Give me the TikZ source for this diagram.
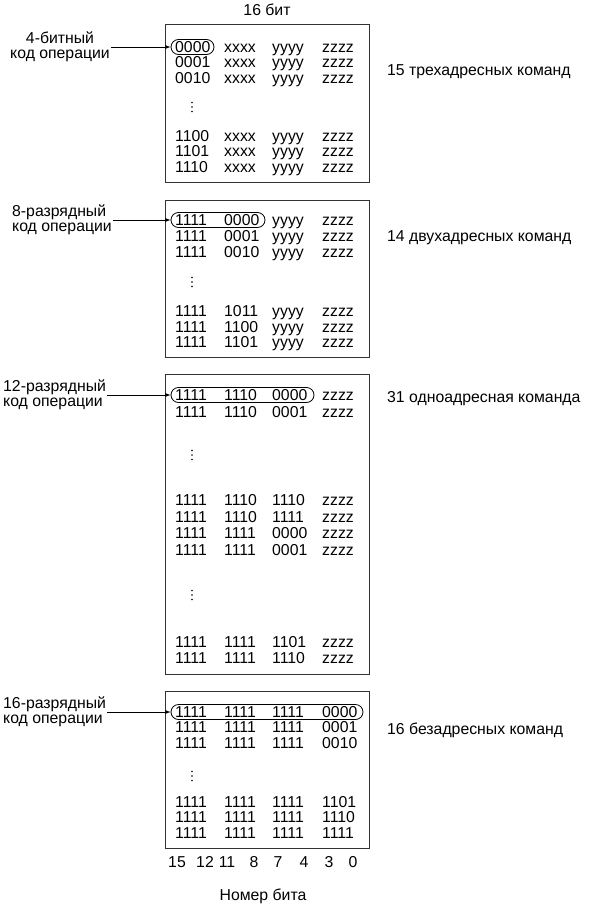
\documentclass[tikz,border=0pt]{standalone}
\usepackage{fontspec}
\setmainfont{Liberation Sans}
\usetikzlibrary{shapes.misc}

\begin{document}
\begin{tikzpicture}[x=1pt, y=-1pt, font=\fontsize{15.8}{15.5}\selectfont,
  box/.style={draw=black!80, line width=0.9pt},
  cell/.style={anchor=west, inner sep=0pt, text height=11.3pt, text depth=0pt},
  num/.style={inner sep=0pt, text height=11.3pt, text depth=0pt},
  oval/.style={draw, rounded rectangle, line width=0.8pt, minimum height=15pt, inner sep=0pt},
  lbl/.style={inner sep=1pt},
  arr/.style={-latex, line width=0.8pt}]
\useasboundingbox (0,0) rectangle (592,907);

% frames
\draw[box] (165,24) rectangle (369,182);
\draw[box] (165,200) rectangle (369,357);
\draw[box] (165,374) rectangle (369,674);
\draw[box] (165,691) rectangle (369,848);

\node[num] (width) at (267,10) {16 бит};

% code table
\foreach \y/\a/\b/\c/\d [count=\i] in {
  47/0000/xxxx/yyyy/zzzz, 62/0001/xxxx/yyyy/zzzz, 78/0010/xxxx/yyyy/zzzz,
  136/1100/xxxx/yyyy/zzzz, 151/1101/xxxx/yyyy/zzzz, 167/1110/xxxx/yyyy/zzzz,
  220/1111/0000/yyyy/zzzz, 236/1111/0001/yyyy/zzzz, 252/1111/0010/yyyy/zzzz,
  311/1111/1011/yyyy/zzzz, 327/1111/1100/yyyy/zzzz, 342/1111/1101/yyyy/zzzz,
  395/1111/1110/0000/zzzz, 412/1111/1110/0001/zzzz,
  500/1111/1110/1110/zzzz, 517/1111/1110/1111/zzzz,
  533/1111/1111/0000/zzzz, 550/1111/1111/0001/zzzz,
  642/1111/1111/1101/zzzz, 658/1111/1111/1110/zzzz,
  712/1111/1111/1111/0000, 727/1111/1111/1111/0001, 743/1111/1111/1111/0010,
  802/1111/1111/1111/1101, 817/1111/1111/1111/1110, 833/1111/1111/1111/1111} {
  \node[cell] (r\i-a) at (175,\y) {\a};
  \node[cell] (r\i-b) at (224,\y) {\b};
  \node[cell] (r\i-c) at (272,\y) {\c};
  \node[cell] (r\i-d) at (322,\y) {\d};
}

% vertical dots
\foreach \y in {107,282,455,595,776}
  \foreach \k in {-4.5,0,4.5}
    \fill (192,\y+\k) circle (0.8pt);

% opcode ovals
\node[oval, minimum width=43pt] (op1) at (192.5,47) {};
\node[oval, minimum width=94pt] (op2) at (218,220) {};
\node[oval, minimum width=143pt] (op3) at (242.5,395) {};
\node[oval, minimum width=192pt] (op4) at (267,712) {};

% left labels
\node[lbl, align=center] (lab1) at (60,47) {4-битный\\код операции};
\node[lbl, align=left, anchor=west] (lab2) at (11,220) {8-разрядный\\код операции};
\node[lbl, align=left, anchor=west] (lab3) at (2,395) {12-разрядный\\код операции};
\node[lbl, align=left, anchor=west] (lab4) at (2,712) {16-разрядный\\код операции};
\draw[arr] (lab1.east |- op1.west) -- (op1.west);
\draw[arr] (lab2.east |- op2.west) -- (op2.west);
\draw[arr] (lab3.east |- op3.west) -- (op3.west);
\draw[arr] (lab4.east |- op4.west) -- (op4.west);

% right labels
\node[cell] (cnt1) at (387,70) {15 трехадресных команд};
\node[cell] (cnt2) at (387,236) {14 двухадресных команд};
\node[cell] (cnt3) at (387,397) {31 одноадресная команда};
\node[cell] (cnt4) at (387,729) {16 безадресных команд};

% bit numbers
\foreach \x/\b in {177/15, 205/12, 227/11, 254/8, 278/7, 304/4, 329/3, 353/0}
  \node[num] (bit\b) at (\x,862) {\b};
\node[num] (bitno) at (263,895) {Номер бита};
\end{tikzpicture}
\end{document}
